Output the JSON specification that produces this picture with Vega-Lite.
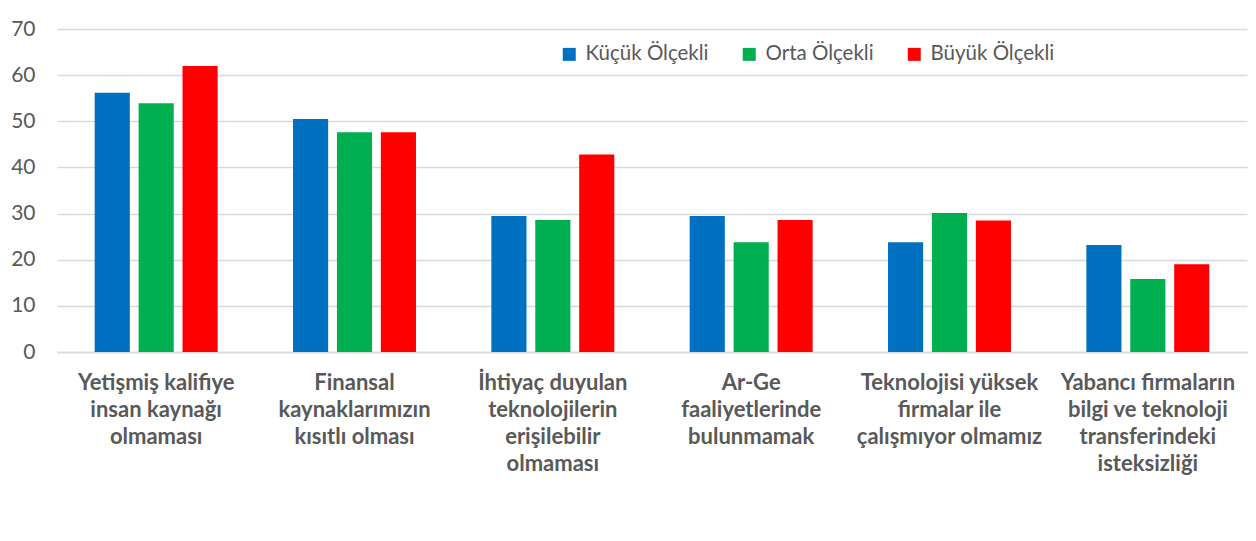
{
  "$schema": "https://vega.github.io/schema/vega-lite/v6.json",
  "autosize": {"type": "none"},
  "width": 1190,
  "height": 323,
  "padding": {"left": 57, "top": 29, "right": 9, "bottom": 189},
  "background": "white",
  "config": {"view": {"stroke": null}, "font": "Lato"},
  "data": {
    "values": [
      {"kategori": "Yetişmiş kalifiye|insan kaynağı|olmaması", "olcek": "Küçük Ölçekli", "deger": 56.2},
      {"kategori": "Yetişmiş kalifiye|insan kaynağı|olmaması", "olcek": "Orta Ölçekli", "deger": 53.9},
      {"kategori": "Yetişmiş kalifiye|insan kaynağı|olmaması", "olcek": "Büyük Ölçekli", "deger": 62.0},
      {"kategori": "Finansal|kaynaklarımızın|kısıtlı olması", "olcek": "Küçük Ölçekli", "deger": 50.5},
      {"kategori": "Finansal|kaynaklarımızın|kısıtlı olması", "olcek": "Orta Ölçekli", "deger": 47.6},
      {"kategori": "Finansal|kaynaklarımızın|kısıtlı olması", "olcek": "Büyük Ölçekli", "deger": 47.6},
      {"kategori": "İhtiyaç duyulan|teknolojilerin|erişilebilir|olmaması", "olcek": "Küçük Ölçekli", "deger": 29.5},
      {"kategori": "İhtiyaç duyulan|teknolojilerin|erişilebilir|olmaması", "olcek": "Orta Ölçekli", "deger": 28.6},
      {"kategori": "İhtiyaç duyulan|teknolojilerin|erişilebilir|olmaması", "olcek": "Büyük Ölçekli", "deger": 42.8},
      {"kategori": "Ar-Ge|faaliyetlerinde|bulunmamak", "olcek": "Küçük Ölçekli", "deger": 29.5},
      {"kategori": "Ar-Ge|faaliyetlerinde|bulunmamak", "olcek": "Orta Ölçekli", "deger": 23.8},
      {"kategori": "Ar-Ge|faaliyetlerinde|bulunmamak", "olcek": "Büyük Ölçekli", "deger": 28.6},
      {"kategori": "Teknolojisi yüksek|firmalar ile|çalışmıyor olmamız", "olcek": "Küçük Ölçekli", "deger": 23.8},
      {"kategori": "Teknolojisi yüksek|firmalar ile|çalışmıyor olmamız", "olcek": "Orta Ölçekli", "deger": 30.1},
      {"kategori": "Teknolojisi yüksek|firmalar ile|çalışmıyor olmamız", "olcek": "Büyük Ölçekli", "deger": 28.5},
      {"kategori": "Yabancı firmaların|bilgi ve teknoloji|transferindeki|isteksizliği", "olcek": "Küçük Ölçekli", "deger": 23.2},
      {"kategori": "Yabancı firmaların|bilgi ve teknoloji|transferindeki|isteksizliği", "olcek": "Orta Ölçekli", "deger": 15.8},
      {"kategori": "Yabancı firmaların|bilgi ve teknoloji|transferindeki|isteksizliği", "olcek": "Büyük Ölçekli", "deger": 19.0}
    ]
  },
  "mark": {"type": "bar"},
  "encoding": {
    "x": {
      "field": "kategori",
      "type": "nominal",
      "sort": null,
      "scale": {"paddingInner": 0.38, "paddingOuter": 0.19},
      "axis": {
        "title": null,
        "labelAngle": 0,
        "labelExpr": "split(datum.value, '|')",
        "labelFont": "Lato",
        "labelFontWeight": "bold",
        "labelFontSize": 22,
        "labelColor": "#595959",
        "labelLineHeight": 27,
        "labelPadding": 20,
        "labelLimit": 300,
        "ticks": false,
        "domainColor": "#d9d9d9",
        "domainWidth": 1.5
      }
    },
    "xOffset": {
      "field": "olcek",
      "type": "nominal",
      "sort": ["Küçük Ölçekli", "Orta Ölçekli", "Büyük Ölçekli"],
      "scale": {"paddingInner": 0.2, "paddingOuter": 0}
    },
    "y": {
      "field": "deger",
      "type": "quantitative",
      "scale": {"domain": [0, 70]},
      "axis": {
        "title": null,
        "values": [0, 10, 20, 30, 40, 50, 60, 70],
        "domain": false,
        "ticks": false,
        "labelPadding": 22,
        "labelFont": "Lato",
        "labelFontSize": 21,
        "labelColor": "#595959",
        "gridColor": "#d9d9d9",
        "gridWidth": 1.5
      }
    },
    "color": {
      "field": "olcek",
      "type": "nominal",
      "sort": ["Küçük Ölçekli", "Orta Ölçekli", "Büyük Ölçekli"],
      "scale": {"domain": ["Küçük Ölçekli", "Orta Ölçekli", "Büyük Ölçekli"], "range": ["#0070C0", "#00B050", "#FF0000"]},
      "legend": {
        "title": null,
        "orient": "none",
        "direction": "horizontal",
        "legendX": 502,
        "legendY": 15,
        "symbolType": "square",
        "symbolSize": 169,
        "symbolStrokeWidth": 0,
        "labelFont": "Lato",
        "labelFontSize": 20.5,
        "labelColor": "#595959",
        "labelOffset": 6,
        "columnPadding": 30,
        "labelLimit": 300
      }
    }
  }
}
